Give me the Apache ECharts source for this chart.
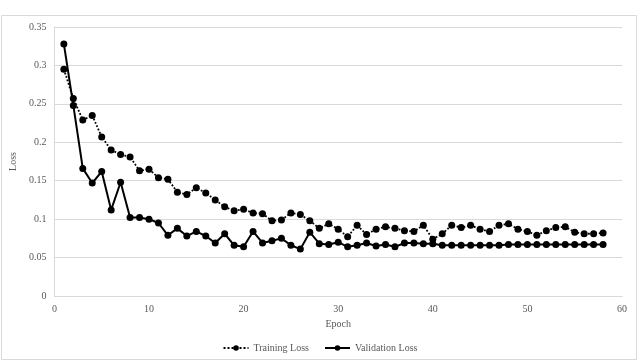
<!DOCTYPE html>
<html>
<head>
<meta charset="utf-8">
<script src="https://cdn.jsdelivr.net/npm/echarts@6/dist/echarts.min.js"></script>
<style>
html,body{margin:0;padding:0;background:#fff;}
#chart{width:640px;height:362px;}
</style>
</head>
<body>
<div id="chart"></div>
<script>
const epochs = [1,2,3,4,5,6,7,8,9,10,11,12,13,14,15,16,17,18,19,20,21,22,23,24,25,26,27,28,29,30,31,32,33,34,35,36,37,38,39,40,41,42,43,44,45,46,47,48,49,50,51,52,53,54,55,56,57,58];
const trainingLoss = [0.295,0.257,0.229,0.235,0.207,0.190,0.184,0.181,0.163,0.165,0.154,0.152,0.135,0.132,0.141,0.134,0.125,0.116,0.111,0.113,0.108,0.107,0.098,0.099,0.108,0.106,0.098,0.088,0.094,0.087,0.077,0.092,0.080,0.087,0.090,0.088,0.085,0.084,0.092,0.074,0.081,0.092,0.089,0.092,0.087,0.084,0.092,0.094,0.087,0.084,0.079,0.085,0.089,0.090,0.083,0.081,0.081,0.082];
const validationLoss = [0.328,0.248,0.166,0.147,0.162,0.112,0.148,0.102,0.102,0.100,0.095,0.079,0.088,0.078,0.084,0.078,0.069,0.081,0.066,0.064,0.084,0.069,0.072,0.075,0.066,0.061,0.083,0.068,0.067,0.070,0.064,0.066,0.069,0.065,0.067,0.064,0.069,0.069,0.068,0.068,0.066,0.066,0.066,0.066,0.066,0.066,0.066,0.067,0.067,0.067,0.067,0.067,0.067,0.067,0.067,0.067,0.067,0.067];
const seriesNames = ['Training Loss','Validation Loss'];
const xTitle = 'Epoch';
const yTitle = 'Loss';

const font = '"Liberation Serif", "DejaVu Serif", serif';
const txt = '#595959';
const chart = echarts.init(document.getElementById('chart'), null, {renderer:'canvas'});
chart.setOption({
  animation:false,
  backgroundColor:'#fff',
  textStyle:{fontFamily:font},
  graphic:[{type:'rect', shape:{x:1.5,y:15.5,width:635,height:344}, style:{fill:'none',stroke:'#d9d9d9',lineWidth:1}, silent:true}],
  grid:{left:48,right:18,top:27,bottom:66,containLabel:false},
  xAxis:{type:'value',min:0,max:60,interval:10,
    name:xTitle,nameLocation:'middle',nameGap:21,
    nameTextStyle:{color:txt,fontSize:10,fontFamily:font},
    axisLine:{show:true,lineStyle:{color:'#d9d9d9',width:1}},
    axisTick:{show:false},
    axisLabel:{color:txt,fontSize:10,fontFamily:font,margin:8},
    splitLine:{show:false}},
  yAxis:{type:'value',min:0,max:0.35,interval:0.05,
    name:yTitle,nameLocation:'middle',nameGap:16,nameRotate:90,
    nameTextStyle:{color:txt,fontSize:10,fontFamily:font},
    axisLine:{show:true,lineStyle:{color:'#d9d9d9',width:1}},
    axisTick:{show:false},
    axisLabel:{color:txt,fontSize:10,fontFamily:font,margin:8},
    splitLine:{show:true,lineStyle:{color:'#d9d9d9',width:1}}},
  legend:{bottom:4,left:'center',itemWidth:25,itemHeight:7,itemGap:15,
    textStyle:{color:txt,fontSize:10,fontFamily:font},
    data:seriesNames},
  series:[
    {name:seriesNames[0],type:'line',data:epochs.map((e,i)=>[e,trainingLoss[i]]),
      symbol:'circle',symbolSize:7,showSymbol:true,
      lineStyle:{color:'#000',width:1.8,type:'dotted'},itemStyle:{color:'#000'}},
    {name:seriesNames[1],type:'line',data:epochs.map((e,i)=>[e,validationLoss[i]]),
      symbol:'circle',symbolSize:7,showSymbol:true,
      lineStyle:{color:'#000',width:2,type:'solid'},itemStyle:{color:'#000'}}
  ]
});
</script>
</body>
</html>
